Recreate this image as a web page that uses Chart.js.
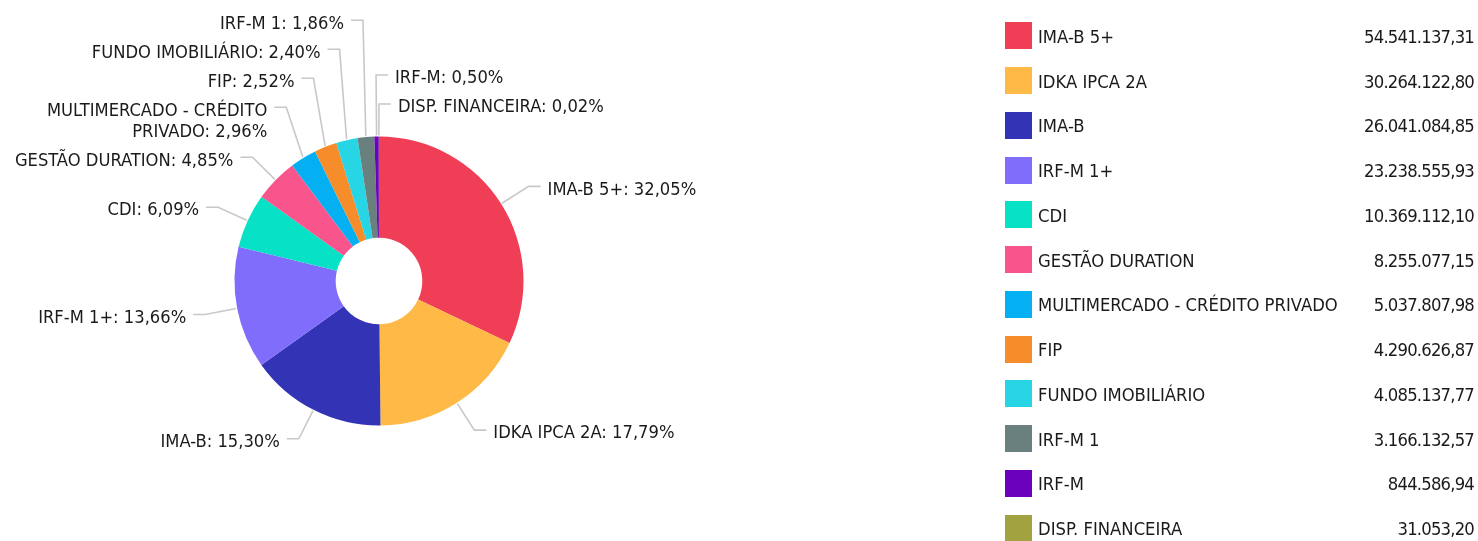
<!DOCTYPE html>
<html>
<head>
<meta charset="utf-8">
<script src="https://cdn.jsdelivr.net/npm/chart.js@4.4.1/dist/chart.umd.min.js"></script>
<style>
  html, body { margin: 0; padding: 0; background: #fff; width: 1478px; height: 541px; overflow: hidden; }
  #chartBox { position: absolute; left: 0; top: 0; width: 758px; height: 541px; }
  #legend { position: absolute; left: 0; top: 0; width: 1478px; height: 541px; pointer-events: none;
            font-family: 'DejaVu Sans Condensed', 'Liberation Sans', sans-serif; font-size: 18.3px; color: #1a1a1a; }
  .sw { position: absolute; left: 1005px; width: 26.5px; height: 27px; }
  .nm { position: absolute; left: 1038px; height: 27px; line-height: 27px; white-space: nowrap; }
  .vl { position: absolute; right: 4px; height: 27px; line-height: 27px; white-space: nowrap; text-align: right; letter-spacing: -0.8px; }
</style>
</head>
<body>
<div id="chartBox"><canvas id="c" width="758" height="541"></canvas></div>
<div id="legend"></div>
<script>
// ---- data ----
const categories = [
  'IMA-B 5+', 'IDKA IPCA 2A', 'IMA-B', 'IRF-M 1+', 'CDI', 'GESTÃO DURATION',
  'MULTIMERCADO - CRÉDITO PRIVADO', 'FIP', 'FUNDO IMOBILIÁRIO', 'IRF-M 1', 'IRF-M', 'DISP. FINANCEIRA'
];
const values = [
  54541137.31, 30264122.80, 26041084.85, 23238555.93, 10369112.10, 8255077.15,
  5037807.98, 4290626.87, 4085137.77, 3166132.57, 844586.94, 31053.20
];
const colors = [
  '#EF3E55', '#FFB946', '#3333B5', '#806DFB', '#07E1C6', '#F9558D',
  '#04B0F2', '#F68C2A', '#27D5E5', '#6A807E', '#6B00BD', '#A0A33F'
];

// ---- helpers ----
function fmtBR(v) {
  const parts = v.toFixed(2).split('.');
  return parts[0].replace(/\B(?=(\d{3})+(?!\d))/g, '.') + ',' + parts[1];
}
const total = values.reduce((a, b) => a + b, 0);
function pctText(v) { return (v / total * 100).toFixed(2).replace('.', ',') + '%'; }

// ---- legend (HTML, built from the arrays) ----
const legend = document.getElementById('legend');
categories.forEach((name, i) => {
  const top = 22.3 + i * 44.75;
  const sw = document.createElement('div');
  sw.className = 'sw'; sw.style.top = top + 'px'; sw.style.background = colors[i];
  const nm = document.createElement('div');
  nm.className = 'nm'; nm.style.top = (top + 0.5) + 'px'; nm.textContent = name;
  const vl = document.createElement('div');
  vl.className = 'vl'; vl.style.top = (top + 0.5) + 'px'; vl.textContent = fmtBR(values[i]);
  legend.appendChild(sw); legend.appendChild(nm); legend.appendChild(vl);
});

// ---- outside labels with leader lines ----
const LABEL_FONT = "18.2px 'DejaVu Sans Condensed', 'Liberation Sans', sans-serif";
const outLabels = {
  id: 'outLabels',
  afterDraw(chart) {
    const ctx = chart.ctx;
    const meta = chart.getDatasetMeta(0);
    ctx.save();
    ctx.font = LABEL_FONT;
    const bendR = 177, lineH = 21, pad = 8, hLen = 12, gap = 7, maxW = 245;

    const items = meta.data.map((arc, i) => {
      const p = arc.getProps(['x', 'y', 'startAngle', 'endAngle', 'outerRadius'], true);
      const mid = (p.startAngle + p.endAngle) / 2;
      const c = Math.cos(mid), s = Math.sin(mid);
      const words = (categories[i] + ': ' + pctText(values[i])).split(' ');
      const lines = [];
      let cur = '';
      words.forEach(w => {
        const t = cur ? cur + ' ' + w : w;
        if (cur && ctx.measureText(t).width > maxW) { lines.push(cur); cur = w; } else cur = t;
      });
      lines.push(cur);
      const ang = Math.atan2(s, c);
      return {
        i, cx: p.x, cy: p.y, R: p.outerRadius, c, s, ang,
        right: c > -0.05,
        lines,
        h: lines.length * lineH + pad,
        y: p.y + bendR * s,
        bx: p.x + bendR * c
      };
    });

    const arrange = (list) => {
      for (let k = list.length - 2; k >= 0; k--) {
        const below = list[k + 1];
        const belowTop = below.y - 15;
        const cur = list[k];
        const maxY = belowTop - (cur.h - 15);
        if (cur.y > maxY) cur.y = maxY;
      }
    };
    const rightSide = items.filter(o => o.right).sort((a, b) => a.ang - b.ang);
    const leftSide = items.filter(o => !o.right).sort((a, b) => {
      const na = a.ang < 0 ? a.ang + 2 * Math.PI : a.ang;
      const nb = b.ang < 0 ? b.ang + 2 * Math.PI : b.ang;
      return nb - na;
    });
    arrange(rightSide);
    arrange(leftSide);

    items.forEach(o => {
      const sx = o.cx + (o.R + 1) * o.c, sy = o.cy + (o.R + 1) * o.s;
      const dir = o.right ? 1 : -1;
      ctx.beginPath();
      ctx.strokeStyle = '#c8c8c8';
      ctx.lineWidth = 1.6;
      ctx.moveTo(sx, sy);
      ctx.lineTo(o.bx, o.y);
      ctx.lineTo(o.bx + dir * hLen, o.y);
      ctx.stroke();
      ctx.fillStyle = '#1a1a1a';
      ctx.textBaseline = 'middle';
      ctx.textAlign = o.right ? 'left' : 'right';
      const tx = o.bx + dir * (hLen + gap);
      o.lines.forEach((ln, k) => ctx.fillText(ln, tx, o.y + 3.5 + k * lineH));
    });
    ctx.restore();
  }
};

new Chart(document.getElementById('c'), {
  type: 'doughnut',
  data: {
    labels: categories,
    datasets: [{ data: values, backgroundColor: colors, borderWidth: 0 }]
  },
  options: {
    responsive: false,
    animation: false,
    radius: 144.5,
    cutout: '29.97%',
    layout: { padding: { top: 21, bottom: 0, left: 0, right: 0 } },
    plugins: { legend: { display: false }, tooltip: { enabled: false } }
  },
  plugins: [outLabels]
});
</script>
</body>
</html>
